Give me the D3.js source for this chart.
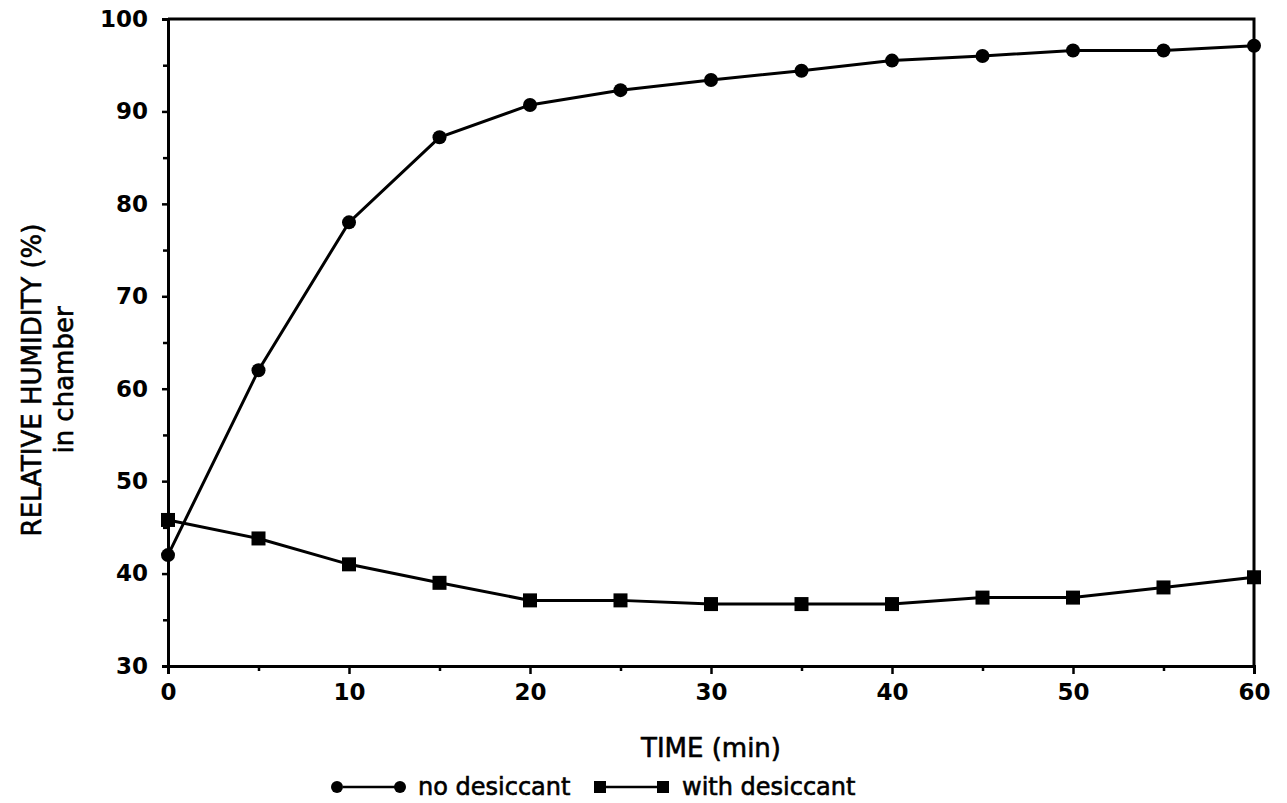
<!DOCTYPE html>
<html>
  <head>
    <title>Relative humidity in chamber</title>
    <style type="text/css">
        body{
            margin: 0;
            background: #ffffff;
        }
        .tick-label{
            font-family: "DejaVu Sans", sans-serif;
            font-weight: bold;
            font-size: 23px;
            fill: #000;
        }
        .title{
            font-family: "DejaVu Sans", sans-serif;
            font-size: 26px;
            fill: #000;
            stroke: #000;
            stroke-width: 0.6px;
        }
        .legend-text{
            font-family: "DejaVu Sans", sans-serif;
            font-size: 24px;
            fill: #000;
            stroke: #000;
            stroke-width: 0.6px;
        }
        .frame{
            stroke: #000;
            stroke-width: 3px;
            fill: none;
        }
    </style>
  </head>
  <body>
    <div id="chart"></div>
    <script src="https://cdn.jsdelivr.net/npm/d3@7"></script>
    <script>
        // values
        var times = [0, 5, 10, 15, 20, 25, 30, 35, 40, 45, 50, 55, 60];
        var noDesiccant = [42, 62, 78, 87.2, 90.7, 92.3, 93.4, 94.4, 95.5, 96, 96.6, 96.6, 97.1];
        var withDesiccant = [45.8, 43.8, 41, 39, 37.1, 37.1, 36.7, 36.7, 36.7, 37.4, 37.4, 38.5, 39.6];
        var xTicks = [0, 10, 20, 30, 40, 50, 60];
        var xMinorTicks = [5, 15, 25, 35, 45, 55];
        var yTicks = [30, 40, 50, 60, 70, 80, 90, 100];
        var yMinorTicks = [35, 45, 55, 65, 75, 85, 95];

        var width = 1287, height = 803;
        var margin = {top: 19, right: 33, bottom: 137, left: 168};

        var svg = d3.select("#chart").append("svg")
            .attr("width", width)
            .attr("height", height);

        var x = d3.scaleLinear().domain([0, 60]).range([margin.left, width - margin.right]);
        var y = d3.scaleLinear().domain([30, 100]).range([height - margin.bottom, margin.top]);

        //  minor ticks first, so the major axis draws on top
        svg.append("g")
            .attr("transform", "translate(0," + y(30) + ")")
            .call(d3.axisBottom(x).tickValues(xMinorTicks).tickSize(5).tickFormat(""))
            .call(styleAxis);
        svg.append("g")
            .attr("transform", "translate(" + x(0) + ",0)")
            .call(d3.axisLeft(y).tickValues(yMinorTicks).tickSize(5).tickFormat(""))
            .call(styleAxis);

        svg.append("g")
            .attr("transform", "translate(0," + y(30) + ")")
            .call(d3.axisBottom(x).tickValues(xTicks).tickSize(8).tickPadding(10))
            .call(styleAxis);
        svg.append("g")
            .attr("transform", "translate(" + x(0) + ",0)")
            .call(d3.axisLeft(y).tickValues(yTicks).tickSize(6).tickPadding(14))
            .call(styleAxis);

        //  top and right border of the plot box
        svg.append("path")
            .attr("class", "frame")
            .attr("d", "M" + x(0) + "," + y(100) + "H" + x(60) + "V" + y(30));

        function styleAxis(g) {
            g.select(".domain").attr("stroke-width", 3);
            g.selectAll(".tick line").attr("stroke-width", 2.5);
            g.selectAll(".tick text").attr("class", "tick-label");
            g.attr("font-family", null).attr("font-size", null);
        }

        var line = d3.line()
            .x(function (d) { return x(d[0]); })
            .y(function (d) { return y(d[1]); });

        var seriesA = times.map(function (t, i) { return [t, noDesiccant[i]]; });
        var seriesB = times.map(function (t, i) { return [t, withDesiccant[i]]; });

        svg.append("path").datum(seriesB)
            .attr("d", line).attr("fill", "none")
            .attr("stroke", "#000").attr("stroke-width", 3);
        svg.append("path").datum(seriesA)
            .attr("d", line).attr("fill", "none")
            .attr("stroke", "#000").attr("stroke-width", 3);

        svg.append("g").selectAll("rect")
            .data(seriesB)
            .enter().append("rect")
            .attr("x", function (d) { return x(d[0]) - 7; })
            .attr("y", function (d) { return y(d[1]) - 7; })
            .attr("width", 14).attr("height", 14)
            .attr("fill", "#000");

        svg.append("g").selectAll("circle")
            .data(seriesA)
            .enter().append("circle")
            .attr("cx", function (d) { return x(d[0]); })
            .attr("cy", function (d) { return y(d[1]); })
            .attr("r", 7)
            .attr("fill", "#000");

        //  axis titles
        svg.append("text")
            .attr("class", "title")
            .attr("x", (x(0) + x(60)) / 2)
            .attr("y", 757)
            .attr("text-anchor", "middle")
            .text("TIME (min)");

        svg.append("text")
            .attr("class", "title")
            .attr("transform", "translate(41,380) rotate(-90)")
            .attr("text-anchor", "middle")
            .text("RELATIVE HUMIDITY (%)");
        svg.append("text")
            .attr("class", "title")
            .attr("transform", "translate(73,380) rotate(-90)")
            .attr("text-anchor", "middle")
            .text("in chamber");

        //  legend
        var legend = svg.append("g").attr("transform", "translate(0,787)");
        legend.append("circle").attr("cx", 337).attr("cy", 0).attr("r", 6).attr("fill", "#000");
        legend.append("line").attr("x1", 343).attr("x2", 395).attr("y1", 0).attr("y2", 0)
            .attr("stroke", "#000").attr("stroke-width", 2.5);
        legend.append("circle").attr("cx", 400).attr("cy", 0).attr("r", 6).attr("fill", "#000");
        legend.append("text").attr("class", "legend-text").attr("x", 418).attr("y", 8).text("no desiccant");

        legend.append("rect").attr("x", 594).attr("y", -6).attr("width", 12).attr("height", 12).attr("fill", "#000");
        legend.append("line").attr("x1", 606).attr("x2", 657).attr("y1", 0).attr("y2", 0)
            .attr("stroke", "#000").attr("stroke-width", 2.5);
        legend.append("rect").attr("x", 657).attr("y", -6).attr("width", 12).attr("height", 12).attr("fill", "#000");
        legend.append("text").attr("class", "legend-text").attr("x", 682).attr("y", 8).text("with desiccant");
    </script>
  </body>
</html>
